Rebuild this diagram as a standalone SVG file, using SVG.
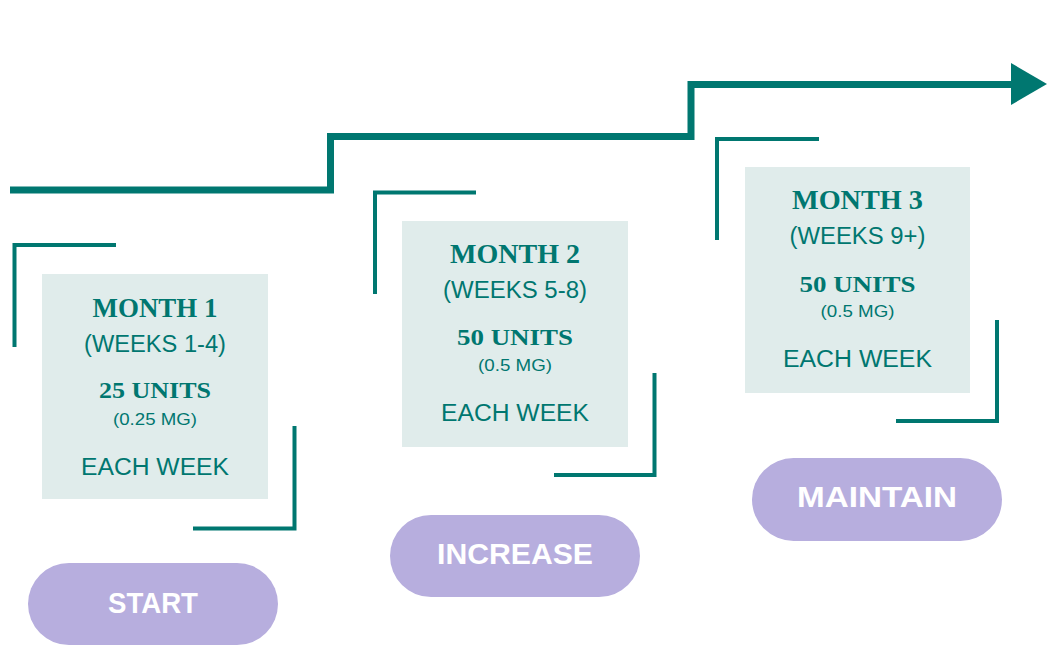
<svg xmlns="http://www.w3.org/2000/svg" width="1058" height="666" viewBox="0 0 1058 666">
<style>
.ln{fill:none;stroke:#007770;stroke-width:4;stroke-linecap:butt;stroke-linejoin:miter}
.main{fill:none;stroke:#007770;stroke-width:7;stroke-linejoin:miter}
.box{fill:#E0ECEB}
.pill{fill:#B7AEDE}
.t{fill:#007770;text-anchor:middle}
.hd{font-family:"Liberation Serif","DejaVu Serif",serif;font-weight:bold;font-size:28px}
.un{font-family:"Liberation Serif","DejaVu Serif",serif;font-weight:bold;font-size:23.5px}
.wk{font-family:"Liberation Sans",Arial,sans-serif;font-size:23px}
.mg{font-family:"Liberation Sans",Arial,sans-serif;font-size:16.5px}
.ew{font-family:"Liberation Sans",Arial,sans-serif;font-size:23.5px}
.pt{fill:#FFFFFF;text-anchor:middle;font-family:"Liberation Sans",Arial,sans-serif;font-weight:bold;font-size:29px}
</style>
<rect width="1058" height="666" fill="#FFFFFF"/>
<g id="connectors">
<path class="main" d="M10 190 H330.5 V136.5 H691 V84.5 H1013"/>
<polygon points="1011,63 1047,84 1011,105" fill="#007770"/>
</g>
<g id="month1">
<path class="ln" d="M116 245 H14.5 V347"/>
<path class="ln" d="M193 528.5 H294.5 V426"/>
<rect class="box" x="42" y="274" width="226" height="225"/>
<text class="t hd" x="155" y="317" textLength="125" lengthAdjust="spacingAndGlyphs">MONTH 1</text>
<text class="t wk" x="155" y="352" textLength="142" lengthAdjust="spacingAndGlyphs">(WEEKS 1-4)</text>
<text class="t un" x="155" y="398" textLength="112" lengthAdjust="spacingAndGlyphs">25 UNITS</text>
<text class="t mg" x="155" y="425" textLength="84" lengthAdjust="spacingAndGlyphs">(0.25 MG)</text>
<text class="t ew" x="155" y="475" textLength="148" lengthAdjust="spacingAndGlyphs">EACH WEEK</text>
</g>
<g id="month2">
<path class="ln" d="M476 192.5 H375 V294"/>
<path class="ln" d="M554 475 H654.5 V373"/>
<rect class="box" x="402" y="221" width="226" height="226"/>
<text class="t hd" x="515" y="263" textLength="130" lengthAdjust="spacingAndGlyphs">MONTH 2</text>
<text class="t wk" x="515" y="298" textLength="144" lengthAdjust="spacingAndGlyphs">(WEEKS 5-8)</text>
<text class="t un" x="515" y="345" textLength="116" lengthAdjust="spacingAndGlyphs">50 UNITS</text>
<text class="t mg" x="515" y="371" textLength="74" lengthAdjust="spacingAndGlyphs">(0.5 MG)</text>
<text class="t ew" x="515" y="421" textLength="148" lengthAdjust="spacingAndGlyphs">EACH WEEK</text>
</g>
<g id="month3">
<path class="ln" d="M819 139 H717 V240"/>
<path class="ln" d="M896 421 H997 V320"/>
<rect class="box" x="745" y="167" width="225" height="226"/>
<text class="t hd" x="857.5" y="209" textLength="131" lengthAdjust="spacingAndGlyphs">MONTH 3</text>
<text class="t wk" x="857.5" y="244" textLength="136" lengthAdjust="spacingAndGlyphs">(WEEKS 9+)</text>
<text class="t un" x="857.5" y="292" textLength="116" lengthAdjust="spacingAndGlyphs">50 UNITS</text>
<text class="t mg" x="857.5" y="317" textLength="74" lengthAdjust="spacingAndGlyphs">(0.5 MG)</text>
<text class="t ew" x="857.5" y="367" textLength="149" lengthAdjust="spacingAndGlyphs">EACH WEEK</text>
</g>
<g id="start">
<rect class="pill" x="28" y="563" width="250" height="82" rx="41"/>
<text class="pt" x="153" y="613" textLength="90" lengthAdjust="spacingAndGlyphs">START</text>
</g>
<g id="increase">
<rect class="pill" x="390" y="515" width="250" height="82" rx="41"/>
<text class="pt" x="515" y="564" textLength="156" lengthAdjust="spacingAndGlyphs">INCREASE</text>
</g>
<g id="maintain">
<rect class="pill" x="752" y="458" width="250" height="83" rx="41.5"/>
<text class="pt" x="877" y="507" textLength="160" lengthAdjust="spacingAndGlyphs">MAINTAIN</text>
</g>
</svg>
